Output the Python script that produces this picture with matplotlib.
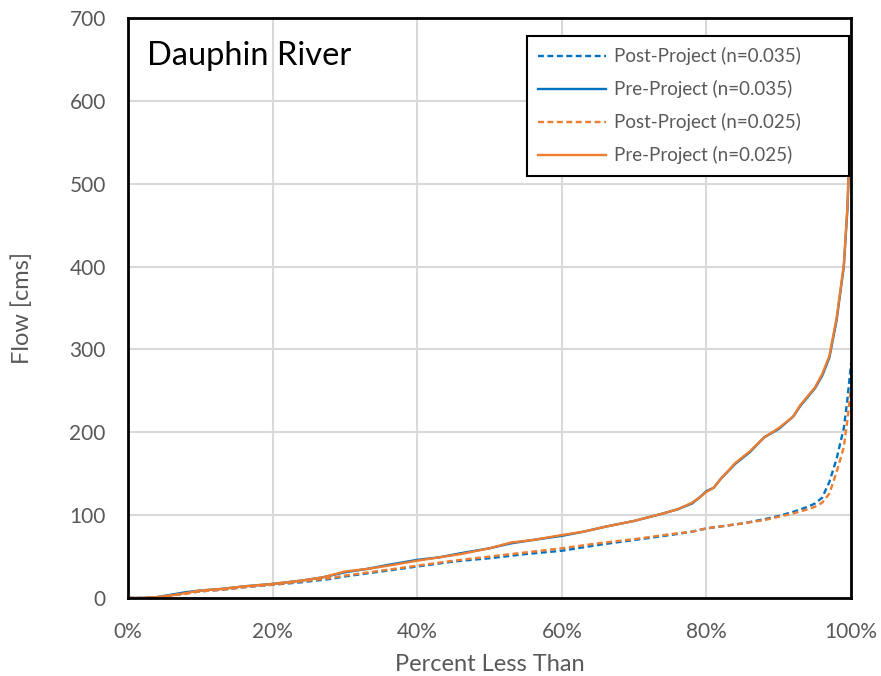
import matplotlib
matplotlib.use('Agg')
import matplotlib.pyplot as plt
from matplotlib.ticker import FuncFormatter

plt.rcParams['font.family'] = ['Lato', 'DejaVu Sans']

# Data (percent less than, flow in cms)
pre35_x = [0, 2, 4, 6, 8, 10, 13, 16, 20, 24, 27, 30, 33, 36, 40, 43, 46, 50, 53, 56,
           60, 63, 66, 70, 74, 76, 78, 79, 80, 81, 82, 84, 86, 88, 90, 92, 93, 95, 96,
           97, 98, 99, 99.5, 100]
pre35_y = [0, 0, 1, 4, 7, 9, 11, 14, 17, 21, 25, 31, 35, 40, 46, 49, 54, 60, 66, 70,
           75, 80, 86, 93, 102, 107, 114, 121, 129, 133, 144, 162, 176, 194, 204, 219, 232, 253, 268,
           290, 335, 400, 470, 595]
pre25_x = pre35_x
pre25_y = [0, 0, 1, 3, 6, 9, 11, 14, 17, 21, 25, 32, 35, 39, 45, 49, 53, 60, 67, 70,
           76, 80, 86, 93, 102, 107, 115, 121, 128, 133, 144, 163, 177, 194, 205, 219, 233, 254, 270,
           292, 338, 402, 472, 595]
post35_x = [0, 2, 4, 6, 8, 10, 13, 16, 20, 24, 28, 30, 35, 40, 45, 50, 55, 60, 65, 70,
            75, 78, 80, 85, 88, 90, 92, 94, 95, 96, 97, 98, 99, 99.5, 100]
post35_y = [0, 0, 1, 3, 6, 8, 10, 13, 16, 19, 23, 26, 32, 38, 44, 48, 53, 57, 64, 70,
            76, 80, 84, 90, 95, 99, 104, 110, 114, 121, 140, 168, 205, 240, 283]
post25_x = post35_x
post25_y = [0, 0, 1, 3, 5, 8, 10, 13, 16, 20, 24, 27, 33, 39, 45, 50, 55, 60, 66, 71,
            77, 80, 84, 90, 94, 98, 102, 107, 110, 115, 126, 152, 182, 215, 255]

blue = '#0070C0'
orange = '#ED7D31'
textgrey = '#595959'

fig = plt.figure(figsize=(8.81, 6.76), dpi=100)
ax = fig.add_axes([0.1453, 0.1154, 0.8207, 0.858])

ax.plot(post35_x, post35_y, color=blue, lw=1.7, ls=(0, (2.5, 1.5)), label='Post-Project (n=0.035)')
ax.plot(pre35_x, pre35_y, color=blue, lw=1.7, label='Pre-Project (n=0.035)')
ax.plot(post25_x, post25_y, color=orange, lw=1.7, ls=(0, (2.5, 1.5)), label='Post-Project (n=0.025)')
ax.plot(pre25_x, pre25_y, color=orange, lw=1.7, label='Pre-Project (n=0.025)')

ax.set_xlim(0, 100)
ax.set_ylim(0, 700)
ax.set_xticks(range(0, 101, 20))
ax.set_yticks(range(0, 701, 100))
ax.xaxis.set_major_formatter(FuncFormatter(lambda v, p: f'{int(v)}%'))
ax.grid(True, color='#d9d9d9', lw=1.5)
ax.set_axisbelow(True)
for s in ax.spines.values():
    s.set_linewidth(2)
    s.set_color('black')
ax.tick_params(length=0, labelsize=15, colors=textgrey)
ax.tick_params(axis='x', pad=17)
ax.tick_params(axis='y', pad=16)

ax.set_xlabel('Percent Less Than', fontsize=17, color=textgrey, va='center')
ax.xaxis.set_label_coords(0.5, -0.115)
ax.set_ylabel('Flow [cms]', fontsize=17, color=textgrey, va='center')
ax.yaxis.set_label_coords(-0.147, 0.5)

ax.text(0.026, 0.935, 'Dauphin River', transform=ax.transAxes, fontsize=23.5,
        color='black', va='center', ha='left')

# legend box stretched to the Excel-like size, text left aligned
leg = ax.legend(loc='upper left', bbox_to_anchor=(0.552, 0.703, 0.445, 0.266),
                mode='expand', borderaxespad=0, fontsize=13.5, frameon=True,
                fancybox=False, edgecolor='black', handlelength=3.6, handletextpad=0.45,
                labelspacing=0.8, borderpad=0.6, framealpha=1)
leg.get_frame().set_linewidth(1.5)
for t in leg.get_texts():
    t.set_color(textgrey)

fig.savefig('out.png', dpi=100, facecolor='white')
